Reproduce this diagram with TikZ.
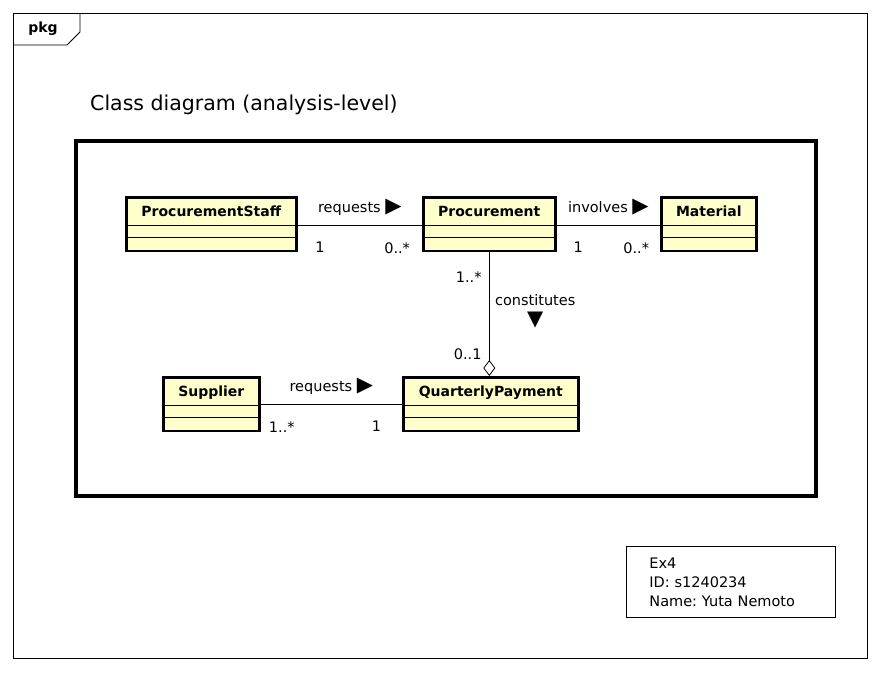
\documentclass[tikz,border=0pt]{standalone}
\usepackage{fontspec}
\setmainfont{DejaVu Sans}
\usepackage{xcolor}
\usepackage{tikz}
\definecolor{classyellow}{HTML}{FFFFCC}
\usetikzlibrary{shapes.multipart, arrows.meta, calc}
\frenchspacing

\newcommand{\rtri}{{\fontsize{21}{21}\selectfont ▶}}
\newcommand{\dtri}{{\fontsize{21}{21}\selectfont ▼}}
\newcommand{\parts}[1]{\rule[-7pt]{0pt}{25pt}#1\nodepart{two}\rule{0pt}{10pt}\nodepart{three}\rule{0pt}{11pt}}

\begin{document}
\begin{tikzpicture}[
    x=1pt, y=-1pt,
    font=\fontsize{14.5}{19}\selectfont,
    umlclass/.style={rectangle split, rectangle split parts=3, rectangle split draw splits=false,
        draw, line width=2.6pt, fill=classyellow, inner ysep=0pt, inner xsep=4pt,
        anchor=north west, font=\fontsize{14}{16}\selectfont\bfseries},
    assoc/.style={draw, line width=0.8pt},
    rel/.style={above=7pt, inner sep=2pt},
    mult/.style={below=14pt, inner sep=3pt}
]

\useasboundingbox (0,0) rectangle (880,672);

% package frame
\draw[line width=0.8pt] (13,13) rectangle (867,658);
\draw[line width=0.8pt] (13,45) -- (67,45) -- (80,32) -- (80,13);
\node[font=\fontsize{14}{16}\selectfont\bfseries] (pkg) at (43,29) {pkg};
\node[anchor=base west, inner sep=0pt, font=\fontsize{20.5}{24}\selectfont] (title) at (90,110) {Class diagram (analysis-level)};
\draw[line width=3.5pt] (76,141) rectangle (816,496);

% classes
\node[umlclass, minimum width=170pt] (staff) at (125,196) {\parts{ProcurementStaff}};
\node[umlclass, minimum width=132pt] (proc) at (422,196) {\parts{Procurement}};
\node[umlclass, minimum width=95pt] (mat) at (660,196) {\parts{Material}};
\node[umlclass, minimum width=175pt] (qp) at (402,376) {\parts{QuarterlyPayment}};
\node[umlclass, minimum width=96pt] (sup) at (162,376) {\parts{Supplier}};

\foreach \c in {staff,proc,mat,qp,sup}
    \draw[line width=0.8pt] (\c.text split west) -- (\c.text split east)
        (\c.two split west) -- (\c.two split east);

% associations
\draw[assoc] (staff.text split east) -- node[rel] {requests \rtri}
    node[mult, pos=.18] {1} node[mult, pos=.8] {0..*} (proc.text split west);
\draw[assoc] (proc.text split east) -- node[rel] {involves \rtri}
    node[mult, pos=.21] {1} node[mult, pos=.77] {0..*} (mat.text split west);
\draw[assoc] ($(sup.text split east)+(0,-1)$) -- node[rel] {requests \rtri}
    node[mult, pos=.15] {1..*} node[mult, pos=.82] {1} ($(qp.text split west |- sup.text split east)+(0,-1)$);
\draw[assoc, -{Diamond[open, length=16pt, width=12pt, line width=0.8pt]}] (proc.south) --
    node[pos=.2, left=4pt] {1..*}
    node[pos=.82, left=4pt] {0..1}
    node[pos=.48, right=2pt, align=center, font=\fontsize{14.5}{20}\selectfont] {constitutes\\\dtri}
    (proc.south |- qp.north);

% note
\node[draw, line width=0.8pt, anchor=north west, minimum height=71pt, text width=163pt,
    inner xsep=23pt, align=left, font=\fontsize{14.5}{19}\selectfont] (note) at (626,546)
    {Ex4\\ID: s1240234\\Name: Yuta Nemoto};

\end{tikzpicture}
\end{document}
